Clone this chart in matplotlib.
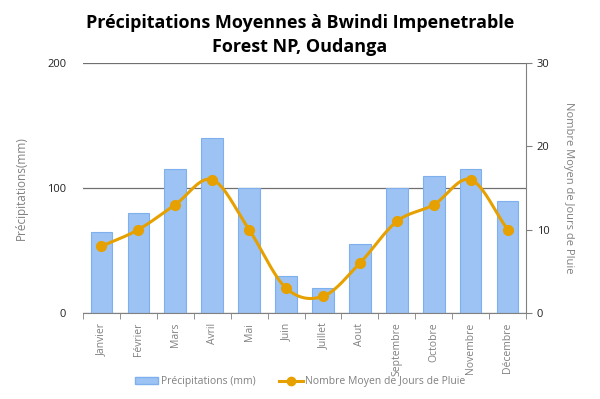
import numpy as np
import matplotlib
matplotlib.use("Agg")
import matplotlib.pyplot as plt
from matplotlib.lines import Line2D
from matplotlib.patches import Patch

mois = ['Janvier', 'Février', 'Mars', 'Avril', 'Mai', 'Juin', 'Juillet',
        'Aout', 'Septembre', 'Octobre', 'Novembre', 'Décembre']
precip = [65, 80, 115, 140, 100, 30, 20, 55, 100, 110, 115, 90]
jours = [8, 10, 13, 16, 10, 3, 2, 6, 11, 13, 16, 10]

bar_col = '#9cc3f3'
bar_edge = '#7fb0ee'
line_col = '#e6a100'
grey = '#808080'


def smooth(x, y, n=20):
    # catmull-rom curve through the points, just for drawing
    x = np.asarray(x, float)
    y = np.asarray(y, float)
    px = np.concatenate([[2 * x[0] - x[1]], x, [2 * x[-1] - x[-2]]])
    py = np.concatenate([[2 * y[0] - y[1]], y, [2 * y[-1] - y[-2]]])
    xs, ys = [], []
    t = np.linspace(0, 1, n)
    for i in range(1, len(px) - 2):
        for p, out in ((px, xs), (py, ys)):
            p0, p1, p2, p3 = p[i - 1], p[i], p[i + 1], p[i + 2]
            out.extend(0.5 * ((2 * p1) + (-p0 + p2) * t
                              + (2 * p0 - 5 * p1 + 4 * p2 - p3) * t ** 2
                              + (-p0 + 3 * p1 - 3 * p2 + p3) * t ** 3))
    return np.array(xs), np.array(ys)


plt.rcParams['font.family'] = ['Open Sans', 'DejaVu Sans']

fig = plt.figure(figsize=(6, 3.99), dpi=100)
ax = fig.add_axes([0.138, 0.2155, 0.739, 0.6265])
x = np.arange(len(mois))

ax.bar(x, precip, width=0.58, color=bar_col, edgecolor=bar_edge, linewidth=0.8, zorder=2)
ax.set_ylim(0, 200)
ax.set_xlim(-0.5, 11.5)
ax.set_yticks([0, 100, 200])
ax.yaxis.grid(True, color='#707070', linewidth=0.9, zorder=0)
ax.set_axisbelow(True)
ax.tick_params(axis='y', length=0, labelsize=8, labelcolor='#222222', pad=12)
ax.set_xticks(x)
ax.set_xticklabels(mois, rotation=90, fontsize=7.5, color=grey)
ax.set_xticks(np.arange(-0.5, 12, 1), minor=True)
ax.tick_params(axis='x', which='major', length=0, pad=7)
ax.tick_params(axis='x', which='minor', length=4, color=grey)
for s in ['left', 'top', 'right']:
    ax.spines[s].set_visible(False)
ax.spines['bottom'].set_color(grey)
ax.set_ylabel('Précipitations(mm)', color=grey, fontsize=8.5, labelpad=14)

ax2 = ax.twinx()
sx, sy = smooth(x, jours)
ax2.plot(sx, sy, color=line_col, linewidth=2.2, zorder=3)
ax2.plot(x, jours, 'o', color=line_col, markersize=7, zorder=4)
ax2.set_ylim(0, 30)
ax2.set_yticks([0, 10, 20, 30])
ax2.tick_params(axis='y', length=4, color=grey, labelsize=8, labelcolor='#222222')
for s in ['left', 'top', 'bottom']:
    ax2.spines[s].set_visible(False)
ax2.spines['right'].set_color(grey)
ax2.set_ylabel('Nombre Moyen de Jours de Pluie', color=grey, fontsize=8,
               rotation=270, labelpad=18)

fig.suptitle('Précipitations Moyennes à Bwindi Impenetrable\nForest NP, Oudanga',
             fontsize=13, fontweight='bold', y=0.965, linespacing=1.45)

handles = [Patch(facecolor=bar_col, edgecolor=bar_edge, label='Précipitations (mm)'),
           Line2D([0], [0], color=line_col, linewidth=2.2, marker='o', markersize=6,
                  label='Nombre Moyen de Jours de Pluie')]
fig.legend(handles=handles, loc='center', bbox_to_anchor=(0.5, 0.043), ncol=2,
           frameon=False, fontsize=7.5, labelcolor=grey, handlelength=2.3,
           handletextpad=0.2, columnspacing=2.3)

fig.savefig('out.png', dpi=100)
